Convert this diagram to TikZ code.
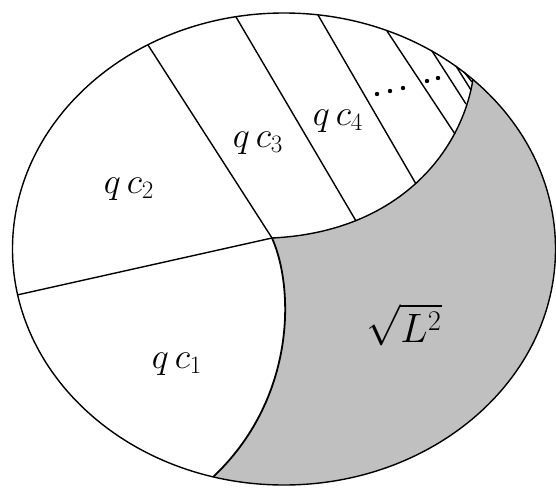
\documentclass[tikz,border=0pt]{standalone}
\usepackage{graphicx}
\definecolor{shadegray}{RGB}{192,192,192}

\begin{document}
\begin{tikzpicture}[x=1pt, y=-1pt, line width=1.4pt,
  region label/.style={font=\Huge, anchor=base, inner sep=0pt}]

\useasboundingbox (0,0) rectangle (556,487);

% Key points
\coordinate (O) at (284,249);
\coordinate (J) at (272,238);
\coordinate (tip) at (473,79);
\coordinate (bot) at (213,477);
\coordinate (lft) at (17,295);

% Shaded region
\begin{scope}
\clip (O) ellipse (271.5pt and 236pt);
\fill[shadegray] (J) .. controls (400,232) and (462,150) .. (tip)
  -- (520,55) -- (600,55) -- (600,530) -- (213,530) -- (bot)
  .. controls (295,400) and (295,290) .. (J) -- cycle;
\end{scope}

% Outer ellipse
\draw (O) ellipse (271.5pt and 236pt);

% Boundaries of the shaded region
\draw (J) .. controls (400,232) and (462,150) .. (tip);
\draw[line width=1.8pt] (J) .. controls (295,290) and (295,400) .. (bot);

% Dividing lines
\draw (lft) -- (J);
\draw (148,45) -- (J);
\foreach \ox/\oy/\ix/\iy in {236/17/356/221, 318/15/416/184, 387/31/455/134,
                             432/51/466/104, 456/66/471/90, 464/72/472/82}
  \draw (\ox,\oy) -- (\ix,\iy);

% Dots
\foreach \dx/\dy in {377/94, 390/91, 403/88, 427/81, 438/78}
  \fill (\dx,\dy) circle (2.2pt);

% Labels
\node[region label] (qc1) at (177,368) {\scalebox{1.45}{$q\,c_{\scriptscriptstyle 1}$}};
\node[region label] (qc2) at (129,193) {\scalebox{1.45}{$q\,c_{\scriptscriptstyle 2}$}};
\node[region label] (qc3) at (258,147) {\scalebox{1.45}{$q\,c_{\scriptscriptstyle 3}$}};
\node[region label] (qc4) at (338,125) {\scalebox{1.45}{$q\,c_{\scriptscriptstyle 4}$}};
\node[region label] (L2) at (404,342) {\scalebox{1.65}{$\sqrt{L^{\scriptscriptstyle 2}}$}};

\end{tikzpicture}
\end{document}
